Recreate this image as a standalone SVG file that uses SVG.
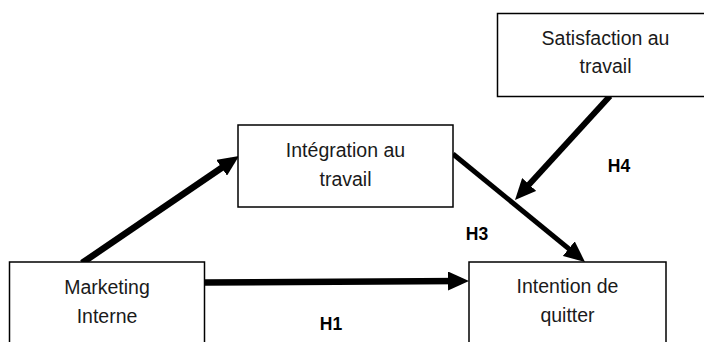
<svg xmlns="http://www.w3.org/2000/svg" width="704" height="342" viewBox="0 0 704 342">
  <defs>
    <style>
      .box { fill: #ffffff; stroke: #000000; stroke-width: 1.5; }
      .label { font-family: "Liberation Sans", Arial, sans-serif; font-size: 19.5px; fill: #1a1a1a; text-anchor: middle; }
      .hyp { font-family: "Liberation Sans", Arial, sans-serif; font-size: 17.5px; font-weight: bold; fill: #000000; text-anchor: middle; }
      .conn { stroke: #000000; fill: none; stroke-linecap: butt; }
    </style>
    <!-- arrowhead: tip sits 8px beyond the line end so the thick stroke stays hidden -->
    <marker id="head" markerUnits="userSpaceOnUse" markerWidth="21" markerHeight="19" refX="13" refY="9.5" orient="auto">
      <path d="M0,0 L21,9.5 L0,19 z" fill="#000000"/>
    </marker>
  </defs>

  <rect width="704" height="342" fill="#ffffff"/>

  <!-- connectors -->
  <g id="connectors">
    <line class="conn" x1="82" y1="263" x2="232.4" y2="160.5" stroke-width="6.5" marker-end="url(#head)"/>
    <line class="conn" x1="205" y1="282.5" x2="461" y2="281" stroke-width="6.5" marker-end="url(#head)"/>
    <line class="conn" x1="453" y1="154" x2="578.8" y2="256.9" stroke-width="5" marker-end="url(#head)"/>
    <line class="conn" x1="610" y1="96" x2="520.4" y2="194.1" stroke-width="6" marker-end="url(#head)"/>
  </g>

  <!-- nodes -->
  <g id="marketing-interne">
    <rect class="box" x="9.5" y="262" width="195" height="90"/>
    <text class="label" x="107" y="294">Marketing</text>
    <text class="label" x="107" y="323">Interne</text>
  </g>

  <g id="integration-au-travail">
    <rect class="box" x="238" y="125" width="215" height="82"/>
    <text class="label" x="345.5" y="157">Intégration au</text>
    <text class="label" x="345.5" y="186">travail</text>
  </g>

  <g id="satisfaction-au-travail">
    <rect class="box" x="497.5" y="13.5" width="220" height="83"/>
    <text class="label" x="605.5" y="45">Satisfaction au</text>
    <text class="label" x="605.5" y="73">travail</text>
  </g>

  <g id="intention-de-quitter">
    <rect class="box" x="469" y="262" width="197" height="90"/>
    <text class="label" x="567.5" y="293">Intention de</text>
    <text class="label" x="567.5" y="322">quitter</text>
  </g>

  <!-- hypothesis labels -->
  <g id="hypotheses">
    <text class="hyp" x="619" y="172">H4</text>
    <text class="hyp" x="477" y="240">H3</text>
    <text class="hyp" x="331" y="330">H1</text>
  </g>
</svg>
